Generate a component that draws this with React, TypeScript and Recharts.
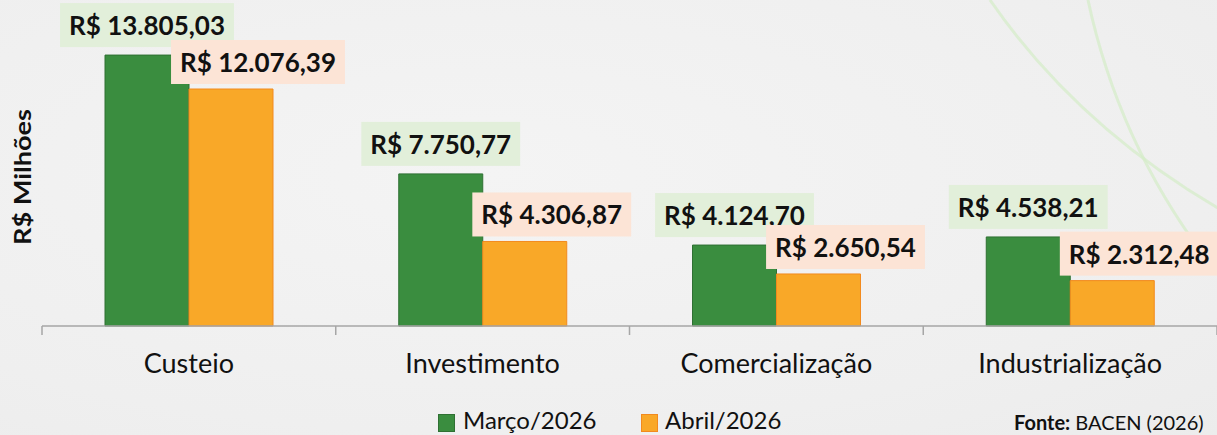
import React from "react"
import { Bar, BarChart, LabelList, XAxis, YAxis } from "recharts"

const categories = ["Custeio", "Investimento", "Comercialização", "Industrialização"]
const marco2026 = [13805.03, 7750.77, 4124.7, 4538.21]
const abril2026 = [12076.39, 4306.87, 2650.54, 2312.48]
const seriesNames = ["Março/2026", "Abril/2026"]

const W = 1217
const H = 435
const MARGIN = { top: 12, right: 0, left: 42, bottom: 69 }
const FONT = "Lato, 'Open Sans', sans-serif"

const GREEN = "#3a8d3f"
const GREEN_EDGE = "#2f7033"
const ORANGE = "#f9a828"
const ORANGE_EDGE = "#f28a1e"
const GREEN_BOX = "#e2efda"
const ORANGE_BOX = "#fce4d6"

const data = categories.map((name, i) => ({ name, marco: marco2026[i], abril: abril2026[i] }))

function brl(v: number) {
  const [int, dec] = v.toFixed(2).split(".")
  return "R$ " + int.replace(/\B(?=(\d{3})+(?!\d))/g, ".") + "," + dec
}

let ctx: CanvasRenderingContext2D | null = null
function textWidth(s: string, font: string) {
  if (!ctx) ctx = document.createElement("canvas").getContext("2d")
  if (!ctx) return s.length * 13
  ctx.font = font
  return ctx.measureText(s).width
}

function makeLabel(fill: string, dx: number, gap: number) {
  return (props: any) => {
    const { x, y, width, value } = props
    const text = brl(Number(value))
    const w = textWidth(text, `bold 26px ${FONT}`) + 18
    const cx = x + width / 2 + dx
    const bottom = y - gap
    return (
      <g>
        <rect x={cx - w / 2} y={bottom - 44} width={w} height={44} fill={fill} />
        <text x={cx} y={bottom - 12} textAnchor="middle" fontFamily={FONT} fontWeight={700} fontSize={26} fill="#111">
          {text}
        </text>
      </g>
    )
  }
}

const halfBand = (W - MARGIN.left - MARGIN.right) / categories.length / 2

function CategoryTick(props: any) {
  const { x, y, payload, index } = props
  return (
    <g>
      <line x1={x - halfBand} y1={y} x2={x - halfBand} y2={y + 9} stroke="#a6a6a6" strokeWidth={1.5} />
      {index === categories.length - 1 && (
        <line x1={x + halfBand} y1={y} x2={x + halfBand} y2={y + 9} stroke="#a6a6a6" strokeWidth={1.5} />
      )}
      <text x={x} y={y + 47} textAnchor="middle" fontFamily={FONT} fontSize={27} fill="#111">
        {payload.value}
      </text>
    </g>
  )
}

export default function App() {
  return (
    <div
      style={{
        position: "relative",
        width: W,
        height: H,
        overflow: "hidden",
        background: "radial-gradient(ellipse at 40% 40%, #f4f4f4 0%, #efefef 70%, #ececec 100%)",
      }}
    >
      <style>{"body{margin:0}"}</style>
      <svg width={W} height={H} style={{ position: "absolute", left: 0, top: 0 }}>
        <path d="M990,0 Q1080,130 1230,215" fill="none" stroke="#d4ecc8" strokeWidth={3} opacity={0.7} />
        <path d="M1088,0 Q1120,150 1215,270" fill="none" stroke="#d4ecc8" strokeWidth={3} opacity={0.7} />
        <text
          transform="translate(31,177) rotate(-90)"
          textAnchor="middle"
          fontFamily={FONT}
          fontWeight={700}
          fontSize={23}
          textLength={136}
          lengthAdjust="spacingAndGlyphs"
          fill="#111"
        >
          R$ Milhões
        </text>
        <g fontFamily={FONT} fontSize={24} fill="#111">
          <rect x={438.5} y={414.5} width={16} height={17} fill={GREEN} stroke={GREEN_EDGE} />
          <text x={463} y={429}>{seriesNames[0]}</text>
          <rect x={641.5} y={414.5} width={16} height={17} fill={ORANGE} stroke={ORANGE_EDGE} />
          <text x={665} y={429}>{seriesNames[1]}</text>
        </g>
        <text x={1014} y={430} fontFamily={FONT} fontSize={20} fill="#111">
          <tspan fontWeight={700}>Fonte:</tspan> BACEN (2026)
        </text>
      </svg>
      <div style={{ position: "absolute", left: 0, top: 0 }}>
        <BarChart width={W} height={H} data={data} margin={MARGIN} barGap={0} barSize={84}>
          <XAxis
            dataKey="name"
            interval={0}
            height={40}
            tickLine={false}
            tickSize={0}
            tickMargin={0}
            axisLine={{ stroke: "#a6a6a6", strokeWidth: 1.5 }}
            tick={<CategoryTick />}
          />
          <YAxis hide width={0} domain={[0, 16000]} />
          <Bar dataKey="marco" name={seriesNames[0]} fill={GREEN} stroke={GREEN_EDGE} isAnimationActive={false}>
            <LabelList dataKey="marco" content={makeLabel(GREEN_BOX, 0, 8)} />
          </Bar>
          <Bar dataKey="abril" name={seriesNames[1]} fill={ORANGE} stroke={ORANGE_EDGE} isAnimationActive={false}>
            <LabelList dataKey="abril" content={makeLabel(ORANGE_BOX, 27, 5)} />
          </Bar>
        </BarChart>
      </div>
    </div>
  )
}
